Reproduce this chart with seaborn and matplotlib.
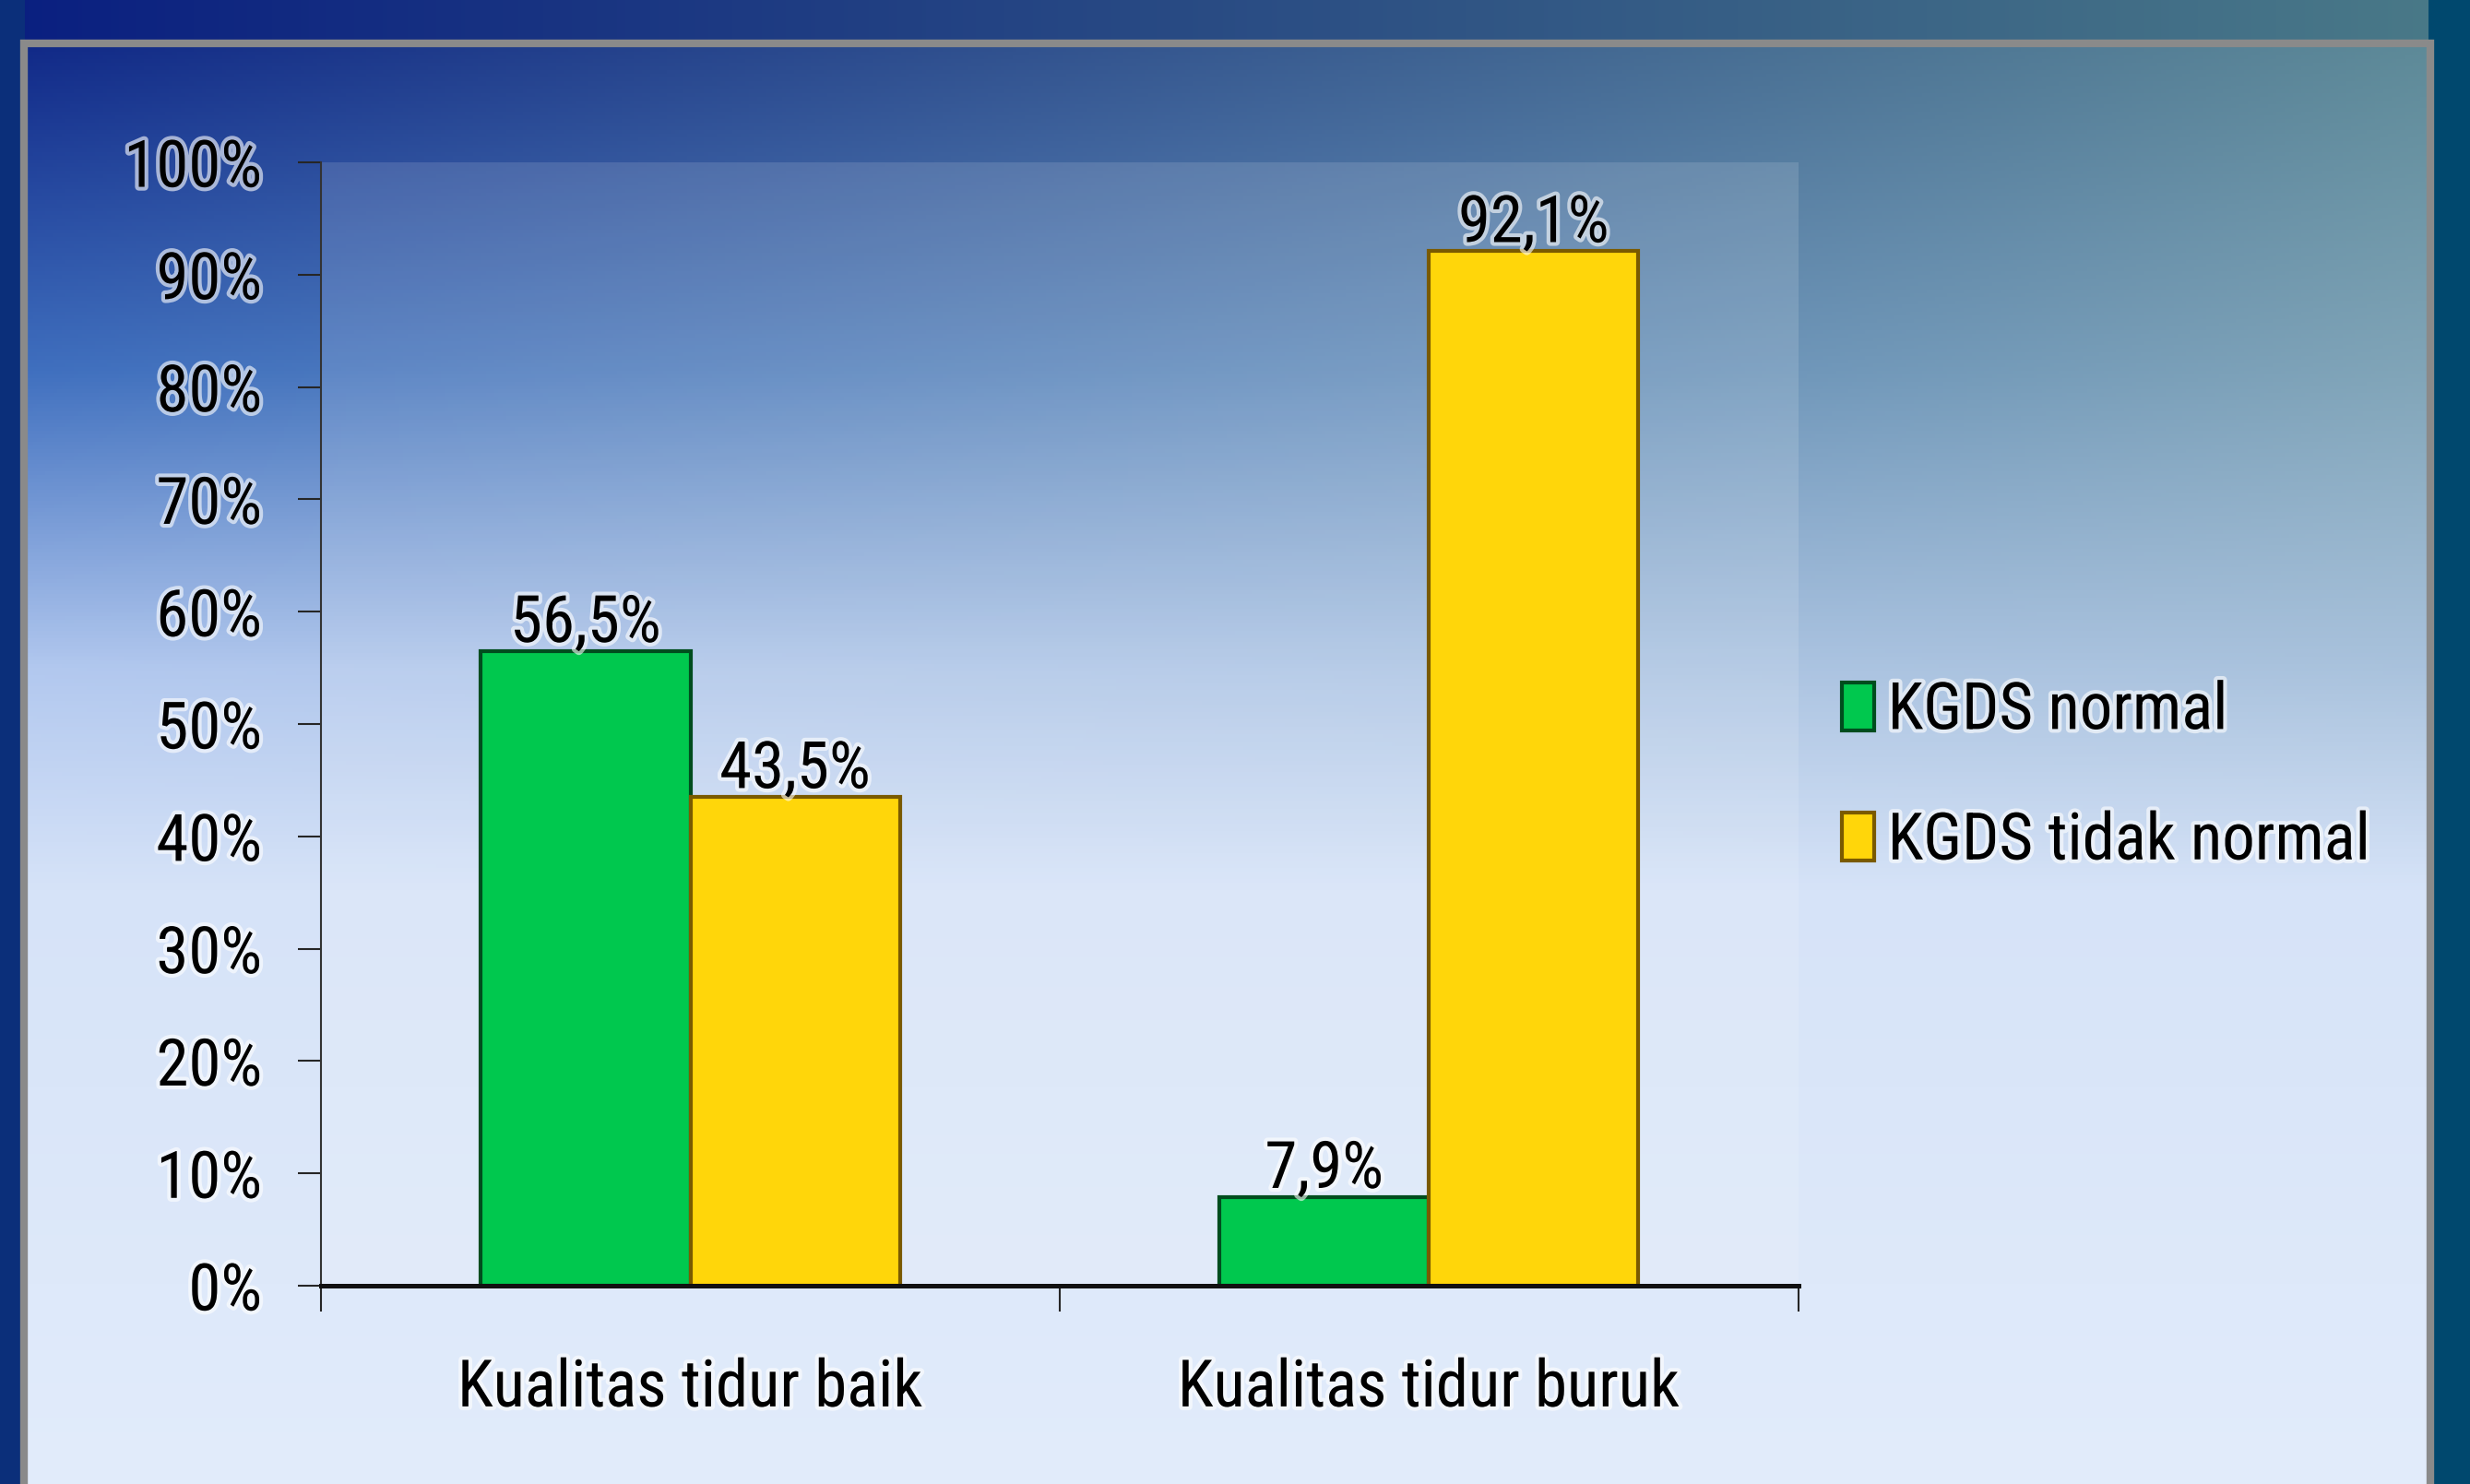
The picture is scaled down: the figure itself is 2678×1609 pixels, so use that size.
import numpy as np
import pandas as pd
import matplotlib.pyplot as plt
import matplotlib.patheffects as pe
from matplotlib import font_manager
from matplotlib.patches import Patch
import seaborn as sns

# data
categories = ["Kualitas tidur baik", "Kualitas tidur buruk"]
series = ["KGDS normal", "KGDS tidak normal"]
kgds_normal = [56.5, 7.9]
kgds_tidak_normal = [43.5, 92.1]
yticks = [0, 10, 20, 30, 40, 50, 60, 70, 80, 90, 100]

df = pd.DataFrame({
    "kategori": categories * 2,
    "kelompok": [series[0]] * 2 + [series[1]] * 2,
    "persen": kgds_normal + kgds_tidak_normal,
})

green = "#00c84e"
yellow = "#ffd60a"
green_edge = "#004d1e"
yellow_edge = "#7a5a00"

# pick a narrow face if one is installed (the original uses a condensed look)
installed = {f.name for f in font_manager.fontManager.ttflist}
narrow = [n for n in ["Liberation Sans Narrow", "Roboto Condensed", "Open Sans Condensed",
                      "DejaVu Sans Condensed", "Noto Sans Condensed", "Arial Narrow"]
          if n in installed]
fam = (narrow[:1] or ["Liberation Sans"]) + ["DejaVu Sans"]
fs = 51 if narrow else 43

sns.set_style("ticks")
plt.rcParams['font.family'] = fam

fig = plt.figure(figsize=(26.78, 16.09), dpi=100)


def hexrgb(h):
    return np.array([int(h[i:i + 2], 16) / 255 for i in (1, 3, 5)])


# background gradient like the slide template
bg = fig.add_axes([0, 0, 1, 1], zorder=-5)
yy, xx = np.mgrid[0:1:400j, 0:1:600j]
xs = xx[..., None]
stops_v = [0.0, 0.25, 0.45, 0.6, 1.0]
stops_c = [
    hexrgb("#0a1f80") + (hexrgb("#5a8894") - hexrgb("#0a1f80")) * xs,
    hexrgb("#3f6fbf") + (hexrgb("#82a6b8") - hexrgb("#3f6fbf")) * xs,
    hexrgb("#b2c8ef") + (hexrgb("#a9c2dc") - hexrgb("#b2c8ef")) * xs,
    np.broadcast_to(hexrgb("#d6e3f8"), xs.shape[:2] + (3,)),
    np.broadcast_to(hexrgb("#e2ecfb"), xs.shape[:2] + (3,)),
]
img = np.zeros(yy.shape + (3,))
for i in range(len(stops_v) - 1):
    v0, v1 = stops_v[i], stops_v[i + 1]
    m = (yy >= v0) & (yy <= v1)
    f = ((yy - v0) / (v1 - v0))[..., None]
    seg = stops_c[i] + (stops_c[i + 1] - stops_c[i]) * f
    img[m] = seg[m]
outside_left = xx < 0.0096
outside_right = xx > 0.984
outside_top = yy < 0.029
img[outside_top] = (hexrgb("#0a1f80") + (hexrgb("#4a7a88") - hexrgb("#0a1f80")) * xs)[outside_top]
img[outside_left] = hexrgb("#0b2f7a")
img[outside_right] = hexrgb("#00486e")
bg.imshow(np.clip(img, 0, 1), extent=[0, 1, 0, 1], aspect="auto", origin="upper")
bg.plot([0.0096, 0.0096, 0.984, 0.984], [-0.01, 0.971, 0.971, -0.01],
        color="#8a8a8a", lw=6, solid_joinstyle="miter")
bg.set_xlim(0, 1)
bg.set_ylim(0, 1)
bg.axis("off")

ax = fig.add_axes([0.130, 0.1336, 0.598, 0.757])
ax.patch.set_facecolor("white")
ax.patch.set_alpha(0.13)

sns.barplot(data=df, x="kategori", y="persen", hue="kelompok",
            palette=[green, yellow], width=0.567, gap=0, ax=ax,
            linewidth=3, legend=False, saturation=1)

for cont, ec in zip(ax.containers, [green_edge, yellow_edge]):
    for bar in cont:
        bar.set_edgecolor(ec)

glow = [pe.withStroke(linewidth=6, foreground="white", alpha=0.6)]

for cont, vals in zip(ax.containers, [kgds_normal, kgds_tidak_normal]):
    labels = [f"{v:.1f}%".replace(".", ",") for v in vals]
    ax.bar_label(cont, labels=labels, padding=-3, fontsize=fs,
                 color="black", path_effects=glow)

ax.set_ylim(0, 100)
ax.set_xlim(-0.5, 1.5)
ax.set_yticks(yticks)
ax.set_yticklabels([f"{v}%" for v in yticks])
ax.set_xticks([-0.5, 0.5, 1.5], minor=True)
ax.tick_params(axis="y", length=18, width=1.5, pad=28, labelsize=fs, left=True,
               labelcolor="black")
ax.tick_params(axis="x", which="major", length=0, pad=56, labelsize=fs, labelcolor="black")
ax.tick_params(axis="x", which="minor", length=20, width=1.5, bottom=True)
ax.set_xlabel("")
ax.set_ylabel("")

sns.despine(ax=ax)
ax.spines["left"].set_linewidth(1.5)
ax.spines["left"].set_color("#333333")
ax.spines["bottom"].set_linewidth(3.6)
ax.spines["bottom"].set_color("#111111")
ax.spines["bottom"].set_zorder(5)

for lbl in ax.get_xticklabels() + ax.get_yticklabels():
    lbl.set_path_effects(glow)

handles = [Patch(facecolor=green, edgecolor=green_edge, linewidth=3),
           Patch(facecolor=yellow, edgecolor=yellow_edge, linewidth=3)]
leg = fig.legend(handles, series, loc="center left", bbox_to_anchor=(0.7457, 0.477),
                 frameon=False, fontsize=fs, handlelength=0.5, handleheight=0.75,
                 handletextpad=0.2, labelspacing=1.05, borderpad=0, borderaxespad=0)
for txt in leg.get_texts():
    txt.set_color("black")
    txt.set_path_effects(glow)

fig.savefig("out.png", dpi=100)
